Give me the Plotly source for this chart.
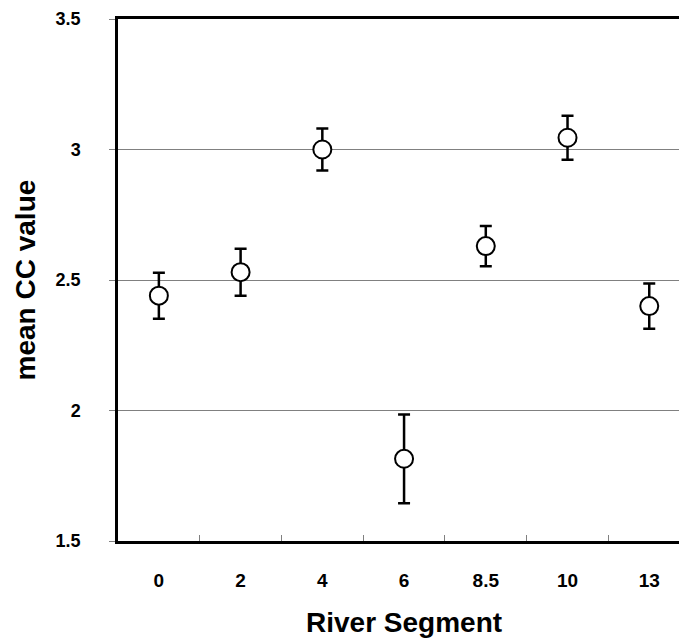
import plotly.graph_objects as go

segments = ["0", "2", "4", "6", "8.5", "10", "13"]
mean_cc = [2.44, 2.53, 3.00, 1.815, 2.63, 3.045, 2.40]
err_cc = [0.088, 0.09, 0.08, 0.17, 0.077, 0.084, 0.087]
y_ticks = [1.5, 2, 2.5, 3, 3.5]
y_ticktext = ["1.5", "2", "2.5", "3", "3.5"]

FONT = "Liberation Sans, Arial, sans-serif"

fig = go.Figure()
fig.add_trace(go.Scatter(
    x=segments, y=mean_cc, mode="markers",
    marker=dict(symbol="circle", size=18, color="white",
                line=dict(color="black", width=2)),
    error_y=dict(type="data", array=err_cc, visible=True,
                 color="black", thickness=2.5, width=6),
    showlegend=False,
))

fig.update_layout(
    width=679, height=641,
    margin=dict(l=117.5, r=0, t=19, b=100),
    plot_bgcolor="white", paper_bgcolor="white",
    font=dict(family=FONT, color="black"),
    xaxis=dict(
        type="category", range=[-0.5, 6.364],
        showgrid=False, zeroline=False,
        showline=True, linecolor="black", linewidth=2.5, mirror=True,
        ticks="inside", tickson="boundaries", ticklen=6,
        tickcolor="#808080", tickwidth=1,
        tickfont=dict(family=FONT, size=19, weight="bold", color="black"),
        ticklabelstandoff=20,
    ),
    yaxis=dict(
        range=[1.5, 3.5], tickvals=y_ticks, ticktext=y_ticktext,
        showgrid=True, gridcolor="#808080", gridwidth=1,
        zeroline=False,
        showline=True, linecolor="black", linewidth=2.5,
        ticks="outside", ticklen=6, tickcolor="#808080", tickwidth=1,
        tickfont=dict(family=FONT, size=18, weight="bold", color="black"),
        ticklabelstandoff=25,
    ),
    annotations=[
        dict(text="River Segment", xref="paper", yref="paper",
             x=0.51, y=-0.157, xanchor="center", yanchor="middle",
             showarrow=False,
             font=dict(family=FONT, size=28, weight="bold", color="black")),
        dict(text="mean CC value", xref="paper", yref="paper",
             x=-0.165, y=0.5, xanchor="center", yanchor="middle",
             textangle=-90, showarrow=False,
             font=dict(family=FONT, size=28, weight="bold", color="black")),
    ],
)

fig.write_html("out.html", config={"displayModeBar": False},
               post_script="document.body.style.margin='0';")
